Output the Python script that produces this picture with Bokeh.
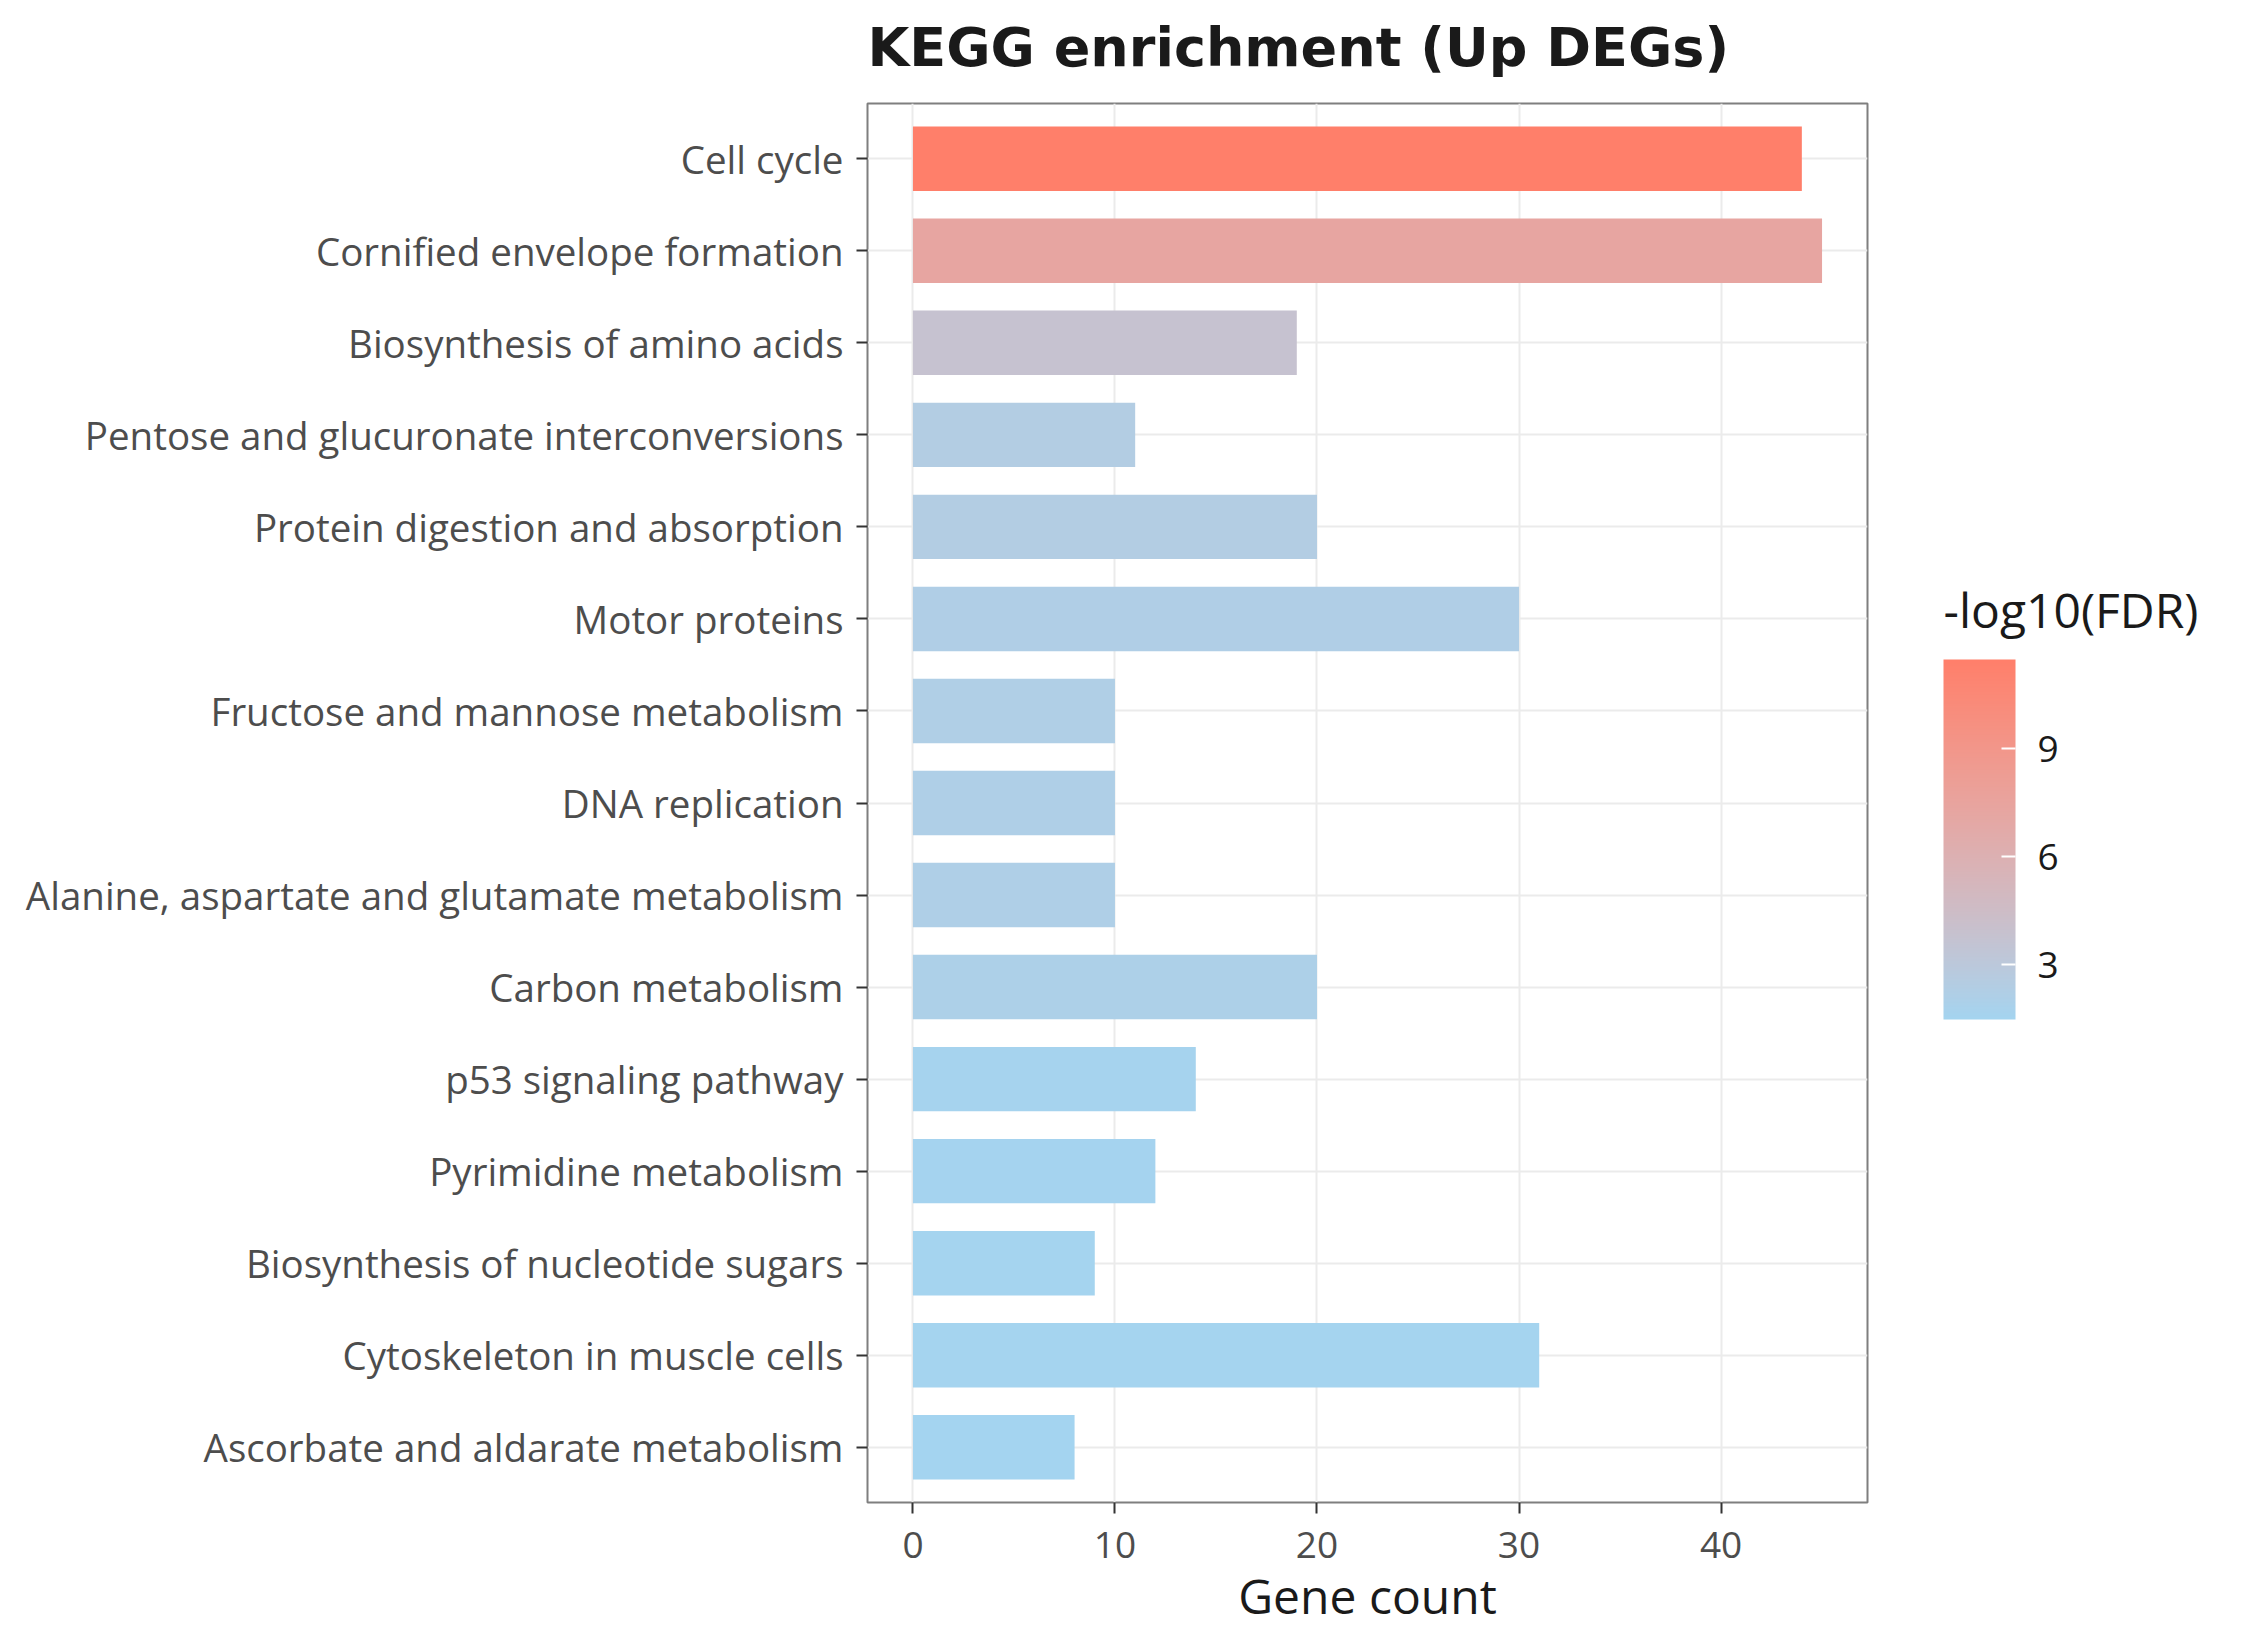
import numpy as np
from bokeh.plotting import figure
from bokeh.models import (ColumnDataSource, Range1d, FixedTicker, LinearColorMapper,
                          ColorBar, Label)
from bokeh.transform import transform
from bokeh.embed import file_html
from bokeh.resources import INLINE

# ---- data (top to bottom) ----
pathways = [
    "Cell cycle",
    "Cornified envelope formation",
    "Biosynthesis of amino acids",
    "Pentose and glucuronate interconversions",
    "Protein digestion and absorption",
    "Motor proteins",
    "Fructose and mannose metabolism",
    "DNA replication",
    "Alanine, aspartate and glutamate metabolism",
    "Carbon metabolism",
    "p53 signaling pathway",
    "Pyrimidine metabolism",
    "Biosynthesis of nucleotide sugars",
    "Cytoskeleton in muscle cells",
    "Ascorbate and aldarate metabolism",
]
gene_count = [44, 45, 19, 11, 20, 30, 10, 10, 10, 20, 14, 12, 9, 31, 8]
neg_log10_fdr = [11.48, 7.3, 3.8, 2.45, 2.42, 2.25, 2.2, 2.18, 2.15, 2.05, 1.62, 1.58, 1.55, 1.52, 1.48]
x_ticks = [0, 10, 20, 30, 40]
legend_ticks = [3, 6, 9]
legend_title = "-log10(FDR)"
chart_title = "KEGG enrichment (Up DEGs)"

LOW_COLOR = "#A4D4F0"
HIGH_COLOR = "#FF7F6A"

# ---- Lab-space gradient palette (like ggplot scale_fill_gradient) ----
def _hex2rgb(h):
    h = h.lstrip("#")
    return np.array([int(h[i:i + 2], 16) for i in (0, 2, 4)]) / 255.0

def _srgb2lin(c):
    return np.where(c <= 0.04045, c / 12.92, ((c + 0.055) / 1.055) ** 2.4)

def _lin2srgb(c):
    return np.where(c <= 0.0031308, 12.92 * c, 1.055 * np.power(np.clip(c, 0, None), 1 / 2.4) - 0.055)

M = np.array([[0.4124, 0.3576, 0.1805], [0.2126, 0.7152, 0.0722], [0.0193, 0.1192, 0.9505]])
Minv = np.linalg.inv(M)
WP = np.array([0.95047, 1.0, 1.08883])

def _f(t):
    d = 6 / 29
    return np.where(t > d ** 3, np.cbrt(t), t / (3 * d * d) + 4 / 29)

def _finv(t):
    d = 6 / 29
    return np.where(t > d, t ** 3, 3 * d * d * (t - 4 / 29))

def rgb2lab(rgb):
    xyz = M @ _srgb2lin(rgb) / WP
    fx, fy, fz = _f(xyz)
    return np.array([116 * fy - 16, 500 * (fx - fy), 200 * (fy - fz)])

def lab2hex(lab):
    L, a, b = lab
    fy = (L + 16) / 116
    xyz = np.array([_finv(fy + a / 500), _finv(fy), _finv(fy - b / 200)]) * WP
    rgb = np.clip(_lin2srgb(Minv @ xyz), 0, 1)
    return "#%02x%02x%02x" % tuple(int(round(v * 255)) for v in rgb)

lab_lo, lab_hi = rgb2lab(_hex2rgb(LOW_COLOR)), rgb2lab(_hex2rgb(HIGH_COLOR))
palette = [lab2hex(lab_lo + (lab_hi - lab_lo) * t) for t in np.linspace(0, 1, 256)]

n = len(pathways)
ypos = [n - i for i in range(n)]
src = ColumnDataSource(dict(y=ypos, count=gene_count, fdr=neg_log10_fdr, name=pathways))

mapper = LinearColorMapper(palette=palette, low=min(neg_log10_fdr), high=max(neg_log10_fdr))

p = figure(width=2250, height=1650, output_backend="svg", toolbar_location=None,
           x_range=Range1d(-2.25, 47.25), y_range=Range1d(0.4, n + 0.6),
           min_border_left=867, min_border_right=383, min_border_top=103, min_border_bottom=148)

p.hbar(y="y", left=0, right="count", height=0.7, source=src,
       fill_color=transform("fdr", mapper), line_color=None)

TEXT_FONT = "Open Sans"
AX_COL = "#4D4D4D"

# axes
p.xaxis.ticker = FixedTicker(ticks=x_ticks)
p.yaxis.ticker = FixedTicker(ticks=ypos)
p.yaxis.major_label_overrides = {y: name for y, name in zip(ypos, pathways)}
for ax in (p.xaxis[0], p.yaxis[0]):
    ax.axis_line_color = None
    ax.major_tick_line_color = "#333333"
    ax.major_tick_line_width = 2
    ax.major_tick_out = 11
    ax.major_tick_in = 0
    ax.minor_tick_line_color = None
    ax.major_label_text_font = TEXT_FONT
    ax.major_label_text_color = AX_COL
p.yaxis.major_label_text_font_size = "38.5px"
p.xaxis.major_label_text_font_size = "37px"
p.yaxis.major_label_standoff = 13
p.xaxis.major_label_standoff = 18
p.xaxis.axis_label = "Gene count"
p.xaxis.axis_label_text_font = TEXT_FONT
p.xaxis.axis_label_text_font_size = "48px"
p.xaxis.axis_label_text_font_style = "normal"
p.xaxis.axis_label_text_color = "#1A1A1A"
p.xaxis.axis_label_standoff = 2

# grid
p.xgrid.grid_line_color = "#EBEBEB"
p.ygrid.grid_line_color = "#EBEBEB"
p.xgrid.grid_line_width = 2
p.ygrid.grid_line_width = 2
p.outline_line_color = "#7F7F7F"
p.outline_line_width = 2
p.background_fill_color = "white"
p.border_fill_color = "white"

# title (as a label in the top border, left-aligned with the panel)
p.title.text = ""
title_lbl = Label(x=0, y=56, x_units="screen", y_units="screen", text=chart_title,
                  text_font="DejaVu Sans", text_font_style="bold", text_font_size="54px",
                  text_color="#1A1A1A", text_baseline="alphabetic", text_align="left")
p.add_layout(title_lbl, "above")

# color bar (placed beside the panel, in screen pixels from the frame's bottom-left)
cb = ColorBar(color_mapper=mapper, ticker=FixedTicker(ticks=legend_ticks),
              width=72, height=360, location=(1076, 483),
              margin=0, padding=0,
              major_label_text_font=TEXT_FONT, major_label_text_font_size="37px",
              major_label_text_color="#1A1A1A", label_standoff=22,
              major_tick_line_color="white", major_tick_line_width=2,
              major_tick_in=14, major_tick_out=0, minor_tick_line_color=None,
              bar_line_color=None, border_line_color=None, background_fill_color=None)
p.add_layout(cb, "center")

leg_title = Label(x=76, y=893, x_units="screen", y_units="screen", text=legend_title,
                  text_font=TEXT_FONT, text_font_size="48px", text_color="#1A1A1A",
                  text_baseline="alphabetic", text_align="left")
p.add_layout(leg_title, "right")

open("out.html", "w").write(file_html(p, INLINE))
